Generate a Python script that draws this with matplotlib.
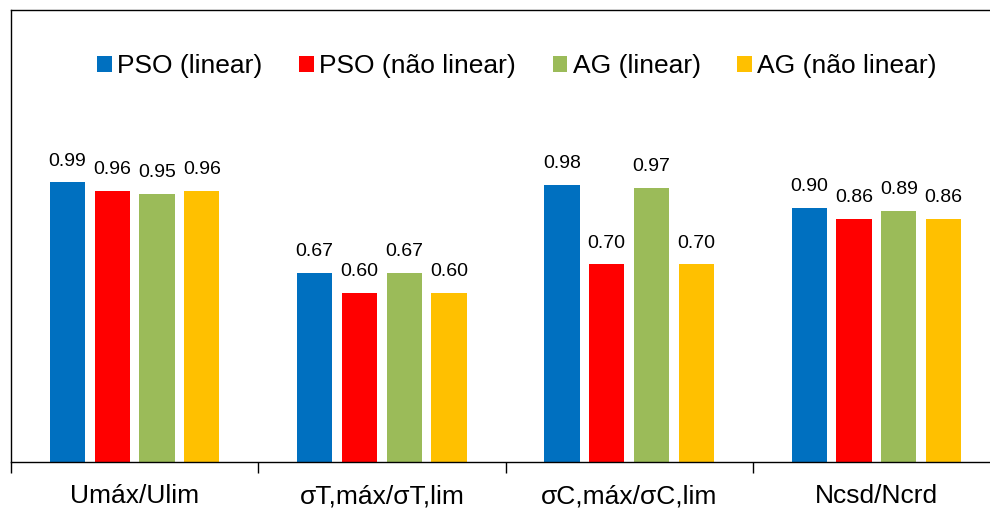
import matplotlib
matplotlib.use("Agg")
import matplotlib.pyplot as plt
from matplotlib.patches import Rectangle
import numpy as np

plt.rcParams['font.family'] = ['Liberation Sans', 'DejaVu Sans']

categories = ["Umáx/Ulim", "σT,máx/σT,lim", "σC,máx/σC,lim", "Ncsd/Ncrd"]
series_names = ["PSO (linear)", "PSO (não linear)", "AG (linear)", "AG (não linear)"]
pso_linear = [0.99, 0.67, 0.98, 0.90]
pso_nonlinear = [0.96, 0.60, 0.70, 0.86]
ag_linear = [0.95, 0.67, 0.97, 0.89]
ag_nonlinear = [0.96, 0.60, 0.70, 0.86]
series_values = [pso_linear, pso_nonlinear, ag_linear, ag_nonlinear]
colors = ["#0070C0", "#FF0000", "#9BBB59", "#FFC000"]

W, H = 990, 508
fig = plt.figure(figsize=(W / 100, H / 100), dpi=100)
ax = fig.add_axes([11 / W, 46 / H, (1000 - 11) / W, (462 - 10) / H])

x = np.arange(len(categories))
pitch = 0.181
width = 0.142
offsets = (np.arange(4) - 1.5) * pitch

for vals, off, col in zip(series_values, offsets, colors):
    bars = ax.bar(x + off, vals, width=width, color=col, edgecolor='none', zorder=2)
    for b, v in zip(bars, vals):
        ax.annotate(f"{v:.2f}", (b.get_x() + b.get_width() / 2, v),
                    xytext=(0, 12), textcoords='offset points',
                    ha='center', va='baseline', fontsize=14, color='#000000')

ax.set_xlim(-0.5, len(categories) - 0.5)
ax.set_ylim(0, 1.6)
ax.set_yticks([])

ax.set_xticks(x)
ax.set_xticklabels(categories, fontsize=19)
ax.tick_params(axis='x', which='major', length=0, pad=16)
ax.set_xticks(np.arange(len(categories) + 1) - 0.5, minor=True)
ax.tick_params(axis='x', which='minor', length=8, width=1.0, direction='out', color='black')

for s in ax.spines.values():
    s.set_linewidth(1.0)
    s.set_color('black')

handles = [Rectangle((0, 0), 1, 1, facecolor=c, edgecolor='none') for c in colors]
fig.legend(handles, series_names, loc='center', bbox_to_anchor=(517 / W, 1 - 66 / H),
           ncol=4, frameon=False, fontsize=19, handlelength=0.55, handleheight=0.55,
           handletextpad=0.2, columnspacing=1.4, borderaxespad=0)

fig.savefig("out.png", dpi=100)
